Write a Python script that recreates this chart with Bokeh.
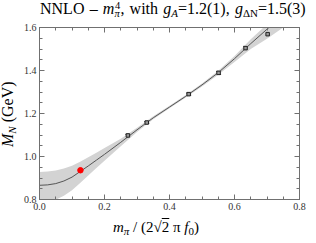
from bokeh.plotting import figure
from bokeh.models import (Range1d, LinearAxis, SingleIntervalTicker, Div,
                          Whisker, TeeHead, ColumnDataSource)
from bokeh.layouts import column, row
from bokeh.embed import file_html
from bokeh.resources import INLINE

# ---- data ----
curve_x = [0.000, 0.025, 0.050, 0.075, 0.100, 0.125, 0.150, 0.175, 0.200, 0.250, 0.300, 0.350,
           0.400, 0.450, 0.500, 0.550, 0.600, 0.650, 0.700, 0.750]
curve_y = [0.866, 0.868, 0.874, 0.886, 0.904, 0.930, 0.956, 0.983, 1.010, 1.066, 1.124, 1.180,
           1.230, 1.280, 1.333, 1.390, 1.455, 1.525, 1.592, 1.660]
band_upper = [0.928, 0.930, 0.935, 0.944, 0.957, 0.976, 0.997, 1.018, 1.040, 1.082, 1.134, 1.187,
              1.236, 1.286, 1.340, 1.399, 1.468, 1.545, 1.615, 1.690]
band_lower = [0.785, 0.790, 0.799, 0.817, 0.843, 0.877, 0.912, 0.946, 0.980, 1.048, 1.114, 1.173,
              1.224, 1.274, 1.326, 1.380, 1.440, 1.500, 1.548, 1.600]

lat_x = [0.272, 0.330, 0.459, 0.551, 0.634, 0.702]
lat_y = [1.098, 1.158, 1.290, 1.389, 1.504, 1.569]
lat_err = [0.005, 0.004, 0.005, 0.007, 0.008, 0.007]

phys_x = [0.126]
phys_y = [0.936]

x_ticks = [0.0, 0.2, 0.4, 0.6, 0.8]
y_ticks = [0.8, 1.0, 1.2, 1.4, 1.6]

title_html = ("NNLO \u2013 <i>m</i>"
              "<span class='ss'><span class='sp'>4</span><span class='sb'><i>\u03c0</i></span></span>"
              ", with <i>g</i><span class='sb1'><i>A</i></span>=1.2(1), "
              "<i>g</i><span class='sb1'>\u0394N</span>=1.5(3)")
xlabel_html = ("<i>m</i><span class='sb1'><i>\u03c0</i></span> / (2\u221a"
               "<span style='text-decoration:overline'>2</span> \u03c0 "
               "<i>f</i><span class='sb1'>0</span>)")
ylabel_html = "<i>M</i><span class='sb1'><i>N</i></span> (GeV)"

SERIF = "Liberation Serif"
FRAME = "#707070"

CSS = ("<style>.ss{display:inline-block;position:relative;width:6px;height:1px;}"
       ".sp{position:absolute;left:0.5px;top:-12px;font-size:10.5px;line-height:9px;}"
       ".sb{position:absolute;left:0;top:-4px;font-size:10.5px;line-height:9px;}"
       ".sb1{position:relative;top:3px;font-size:11px;line-height:0;}</style>")

def box(html, w, h, left, top, size=16, rotate=False, wsp=0.0):
    rot = "transform-origin:0 0;transform:rotate(-90deg);" if rotate else ""
    return (CSS + f"<div style='position:relative;width:{w}px;height:{h}px;'>"
            f"<div style='position:absolute;left:{left}px;top:{top}px;{rot}"
            f"font-family:\"{SERIF}\";font-size:{size}px;line-height:16px;white-space:nowrap;"
            f"word-spacing:{wsp}px;color:#000;'>"
            f"{html}</div></div>")

title_div = Div(text=box(title_html, 316, 21, 40, 0.5, wsp=1.2), width=316, height=21,
                margin=(0, 0, 0, 0))
ylab_div = Div(text=box(ylabel_html, 20, 192, -0.5, 126, rotate=True), width=20, height=192,
               margin=(0, 0, 0, 0))
xlab_div = Div(text=box(xlabel_html, 316, 30, 113, 5.5, size=15), width=316, height=30,
               margin=(0, 0, 0, 0))

p = figure(width=296, height=192, output_backend="svg", toolbar_location=None,
           x_range=Range1d(0, 0.8), y_range=Range1d(0.8, 1.6),
           x_axis_type=None, y_axis_type=None,
           min_border_left=18, min_border_right=17, min_border_top=6, min_border_bottom=14,
           margin=(0, 0, 0, 0))
p.xgrid.visible = False
p.ygrid.visible = False
p.outline_line_color = FRAME
p.background_fill_color = "white"
p.border_fill_color = "white"

def make_axis(show_labels, ticks):
    ax = LinearAxis(ticker=SingleIntervalTicker(interval=0.2, num_minor_ticks=4))
    ax.axis_line_color = FRAME
    ax.major_tick_line_color = FRAME
    ax.minor_tick_line_color = FRAME
    ax.major_tick_in = 5
    ax.major_tick_out = 0
    ax.minor_tick_in = 3
    ax.minor_tick_out = 0
    ax.major_label_text_font = SERIF
    ax.major_label_text_color = "#333333"
    if show_labels:
        ax.major_label_text_font_size = "10px"
        ax.major_label_standoff = 3
        ax.major_label_overrides = {t: f"{t:.1f}" for t in ticks}
    else:
        ax.major_label_text_font_size = "1px"
        ax.major_label_text_alpha = 0
        ax.major_label_standoff = 0
    return ax

p.add_layout(make_axis(True, x_ticks), "below")
p.add_layout(make_axis(True, y_ticks), "left")
p.add_layout(make_axis(False, x_ticks), "above")
p.add_layout(make_axis(False, y_ticks), "right")

# band and curve
p.varea(x=curve_x, y1=band_lower, y2=band_upper, fill_color="#d3d3d3", fill_alpha=1)
p.line(curve_x, curve_y, line_color="#555555", line_width=1)

# lattice points with error bars
src = ColumnDataSource(dict(x=lat_x, y=lat_y,
                            lo=[y - e for y, e in zip(lat_y, lat_err)],
                            hi=[y + e for y, e in zip(lat_y, lat_err)]))
wh = Whisker(source=src, base="x", upper="hi", lower="lo", dimension="height",
             line_color="#222222", line_width=1,
             upper_head=TeeHead(size=5, line_color="#222222", line_width=1),
             lower_head=TeeHead(size=5, line_color="#222222", line_width=1))
p.add_layout(wh)
p.scatter("x", "y", source=src, marker="square", size=3.5,
          line_color="#222222", fill_color="#999999", line_width=1)

# physical point
p.scatter(phys_x, phys_y, marker="circle", size=5.5, fill_color="#ff0000", line_color="#ff0000")

layout = column(title_div, row(ylab_div, p, margin=(0, 0, 0, 0)), xlab_div, margin=(0, 0, 0, 0))

open("out.html", "w").write(file_html(layout, INLINE))
